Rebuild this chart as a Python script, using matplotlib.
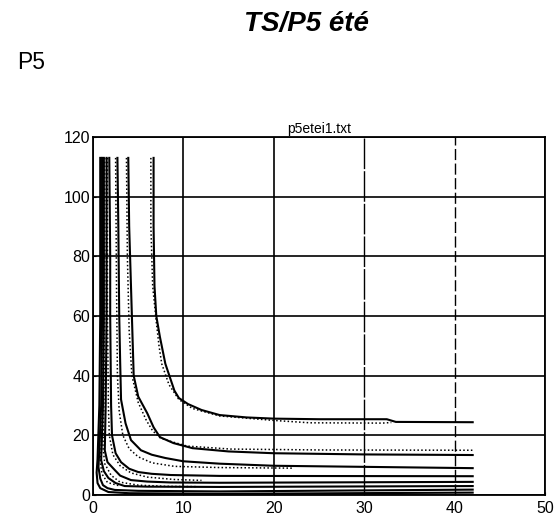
import numpy as np
import matplotlib
matplotlib.use('Agg')
import matplotlib.pyplot as plt

plt.rcParams['font.family'] = ['Liberation Sans', 'DejaVu Sans']

# solid curves (x, y)
a_x = [6.7, 6.7, 6.8, 7.0, 7.4, 8.0, 8.5, 9.0, 9.5, 10.5, 12.0, 14.0, 17.0, 20.0, 25.0, 32.5, 33.5, 42.0]
a_y = [113, 90, 70, 60, 53, 44, 39.5, 35, 32.5, 30.5, 28.5, 26.8, 26.0, 25.6, 25.4, 25.4, 24.5, 24.4]

c_x = [3.9, 4.0, 4.2, 4.3, 4.5, 5.0, 6.0, 6.7, 7.4, 8.9, 11.0, 15.0, 20.0, 30.0, 42.0]
c_y = [113, 90, 70, 60, 40, 33, 27.4, 22.7, 19.4, 17.4, 15.7, 14.6, 14.0, 13.6, 13.4]

d_x = [2.7, 2.8, 2.9, 3.0, 3.1, 3.6, 4.2, 5.3, 6.5, 8.0, 10.0, 14.0, 20.0, 42.0]
d_y = [113, 90, 60, 45, 32, 24, 18.4, 15.0, 13.5, 12.4, 11.3, 10.5, 9.8, 9.0]

e_x = [1.8, 1.9, 1.9, 2.0, 2.1, 2.5, 3.1, 4.0, 5.0, 6.5, 8.6, 14.0, 42.0]
e_y = [113, 80, 60, 30, 20, 14, 11, 8.8, 7.7, 7.1, 6.7, 6.4, 6.3]

f_x = [1.5, 1.5, 1.4, 1.3, 1.6, 2.4, 3.0, 4.2, 6.0, 8.6, 14.0, 42.0]
f_y = [113, 60, 30, 15, 11, 8.4, 6.5, 5.0, 4.5, 4.2, 4.1, 4.4]

g_x = [1.2, 1.2, 1.1, 0.9, 1.2, 1.7, 2.5, 3.5, 6.0, 14.0, 42.0]
g_y = [113, 60, 30, 11.7, 8.0, 5.7, 4.0, 3.0, 2.8, 2.7, 3.0]

h_x = [1.0, 1.0, 0.9, 0.7, 0.6, 0.8, 1.1, 1.6, 2.4, 5.0, 14.0, 42.0]
h_y = [113, 60, 30, 15, 9.4, 5.5, 3.3, 2.3, 1.7, 1.4, 1.2, 1.8]

i_x = [0.8, 0.8, 0.7, 0.5, 0.4, 0.5, 0.8, 1.7, 4.0, 14.0, 42.0]
i_y = [113, 60, 30, 12, 7.5, 4.0, 2.3, 1.0, 0.6, 0.4, 0.8]

# dotted curves
p1_x = [6.4, 6.4, 6.6, 7.0, 7.3, 7.6, 8.4, 9.5, 11.0, 14.0, 20.0, 24.0, 32.0, 33.0]
p1_y = [113, 90, 70, 58, 50, 44, 37, 32, 29.0, 26.5, 25.0, 24.2, 24.1, 24.3]

p2_x = [3.7, 3.8, 4.0, 4.3, 5.0, 5.9, 6.6, 7.5, 9.0, 10.4, 15.2, 25.0, 42.0]
p2_y = [113, 80, 55, 40, 31, 25, 21.5, 19.0, 17.6, 16.4, 15.4, 15.1, 15.0]

p3_x = [2.5, 2.6, 2.7, 2.9, 3.3, 4.0, 5.0, 6.5, 9.0, 14.0, 22.0]
p3_y = [113, 70, 40, 28, 20, 15.5, 12.8, 10.8, 9.6, 9.2, 9.0]

p4_x = [1.6, 1.6, 1.7, 1.8, 2.2, 3.0, 4.2, 6.0, 9.0, 12.0]
p4_y = [113, 60, 30, 20, 13.5, 9.8, 7.4, 6.0, 5.2, 4.9]

p5_x = [1.3, 1.3, 1.2, 1.1, 1.3, 2.0, 3.0, 5.0, 8.0, 11.5]
p5_y = [113, 60, 30, 16, 10.5, 6.6, 4.3, 3.3, 2.9, 2.8]

p6_x = [1.1, 1.1, 1.0, 0.9, 0.8, 1.0, 1.6, 3.0]
p6_y = [113, 60, 30, 16, 11, 7.0, 4.2, 3.0]

solid = [(a_x, a_y), (c_x, c_y), (d_x, d_y), (e_x, e_y), (f_x, f_y),
         (g_x, g_y), (h_x, h_y), (i_x, i_y)]
dotted = [(p1_x, p1_y), (p2_x, p2_y), (p3_x, p3_y), (p4_x, p4_y),
          (p5_x, p5_y), (p6_x, p6_y)]

x_ticks = [0, 10, 20, 30, 40, 50]
y_ticks = [0, 20, 40, 60, 80, 100, 120]

fig = plt.figure(figsize=(5.55, 5.18), dpi=100)
fig.text(0.552, 0.953, 'TS/P5 été', fontsize=20, fontweight='bold',
         fontstyle='italic', ha='center', va='center')
fig.text(0.030, 0.880, 'P5', fontsize=16.5, ha='left', va='center')

ax = fig.add_axes([0.1676, 0.0444, 0.8144, 0.6911])
for xs, ys in solid:
    ax.plot(xs, ys, color='black', lw=1.5, zorder=3)
for xs, ys in dotted:
    ax.plot(xs, ys, color='black', lw=1.1, ls=(0, (1, 1.5)), zorder=3)

ax.set_xlim(0, 50)
ax.set_ylim(0, 120)
ax.set_xticks(x_ticks)
ax.set_yticks(y_ticks)
ax.tick_params(labelsize=11.5, length=2, direction='in', pad=2)
ax.tick_params(axis='x', pad=4)
ax.grid(True, color='black', lw=1.2)
gl = ax.get_xgridlines()
gl[3].set_linestyle((0, (22, 1.5)))
gl[3].set_linewidth(1.0)
gl[4].set_linestyle((0, (8, 2.5)))
gl[4].set_linewidth(1.0)
for s in ax.spines.values():
    s.set_linewidth(1.3)
ax.set_title('p5etei1.txt', fontsize=10, pad=3)

plt.savefig('out.png', dpi=100)
